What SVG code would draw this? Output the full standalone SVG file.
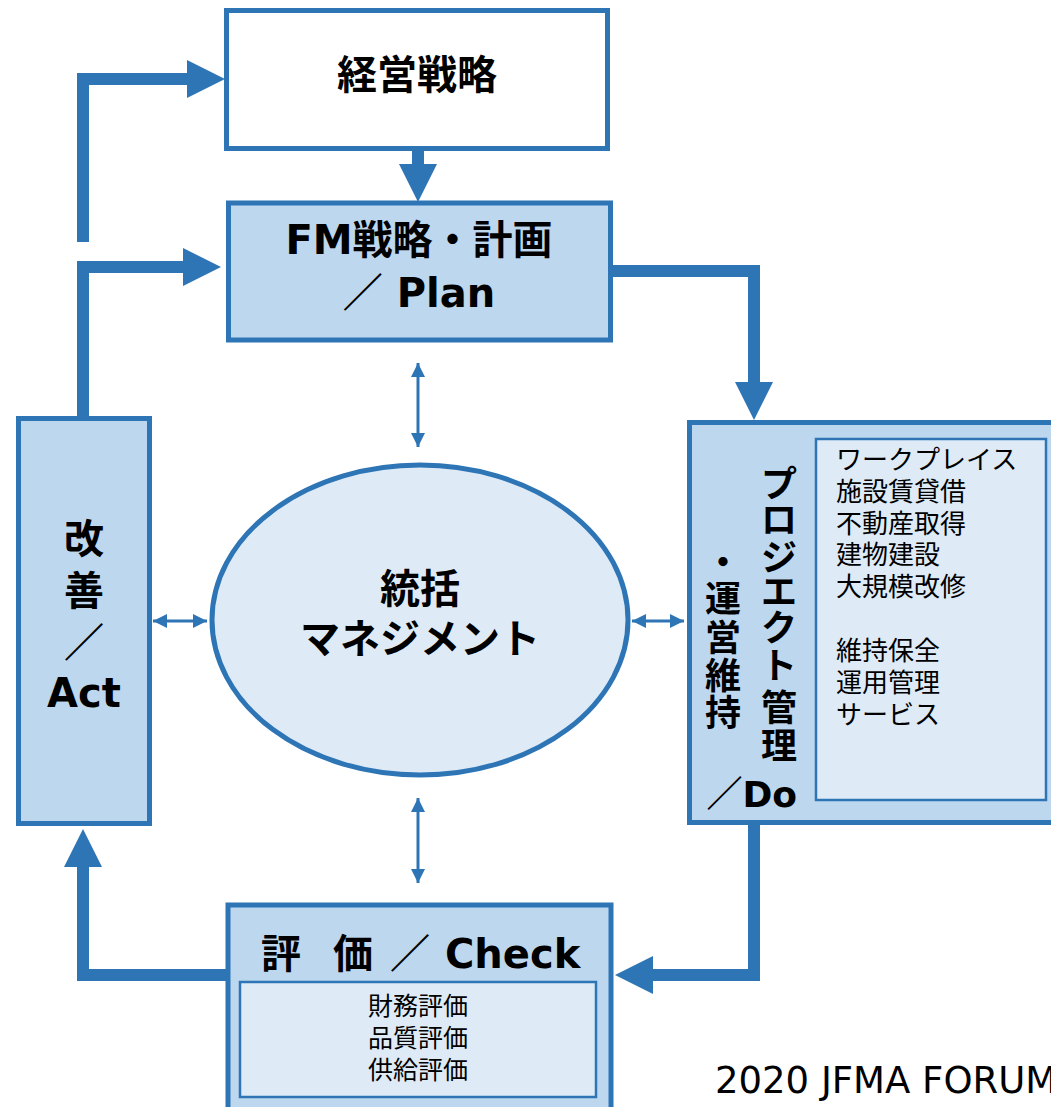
<svg xmlns="http://www.w3.org/2000/svg" width="1051" height="1107" viewBox="0 0 1051 1107">
<defs>
<style>
.box{stroke:#2E75B6;stroke-width:5;}
.inner{fill:#DEEBF7;stroke:#2E75B6;stroke-width:2.5;}
.title{font-family:"DejaVu Sans","Noto Sans CJK JP",sans-serif;font-weight:bold;font-size:40px;fill:#000;}
.vt{font-family:"DejaVu Sans","Noto Sans CJK JP",sans-serif;font-weight:bold;font-size:36px;fill:#000;text-anchor:middle;}
.list{font-family:"Noto Sans CJK JP",sans-serif;font-size:26px;fill:#000;}
.small{font-family:"Noto Sans CJK JP",sans-serif;font-size:25px;fill:#000;text-anchor:middle;}
.big{fill:none;stroke:#2E75B6;stroke-width:12;stroke-linejoin:miter;}
.thin{fill:none;stroke:#2E75B6;stroke-width:3;}
</style>
<marker id="bigHead" markerUnits="userSpaceOnUse" markerWidth="40" markerHeight="40" refX="1" refY="19" orient="auto" viewBox="0 0 40 40">
<path d="M0,0 L38,19 L0,38 Z" fill="#2E75B6"/>
</marker>
<marker id="smallHead" markerUnits="userSpaceOnUse" markerWidth="16" markerHeight="16" refX="14" refY="7" orient="auto-start-reverse" viewBox="0 0 16 16">
<path d="M0,0 L14,7 L0,14 Z" fill="#2E75B6"/>
</marker>
</defs>
<rect width="1051" height="1107" fill="#FFFFFF"/>

<g id="connectors">
<path class="big" d="M83,242 V79 H188" marker-end="url(#bigHead)"/>
<path class="big" d="M83,418 V267 H184" marker-end="url(#bigHead)"/>
<path class="big" d="M418,150 V165" marker-end="url(#bigHead)"/>
<path class="big" d="M611,271 H754 V383" marker-end="url(#bigHead)"/>
<path class="big" d="M754,823 V975 H652" marker-end="url(#bigHead)"/>
<path class="big" d="M226,975 H83 V866" marker-end="url(#bigHead)"/>
<path class="thin" d="M418,363 V447" marker-start="url(#smallHead)" marker-end="url(#smallHead)"/>
<path class="thin" d="M418,798 V883" marker-start="url(#smallHead)" marker-end="url(#smallHead)"/>
<path class="thin" d="M153,621 H207" marker-start="url(#smallHead)" marker-end="url(#smallHead)"/>
<path class="thin" d="M632,621 H684" marker-start="url(#smallHead)" marker-end="url(#smallHead)"/>
</g>

<g id="keiei">
<rect class="box" x="226.5" y="10.5" width="381" height="138" fill="#FFFFFF"/>
<text class="title" x="417" y="89" text-anchor="middle">経営戦略</text>
</g>

<g id="plan">
<rect class="box" x="228.5" y="203" width="382" height="137" fill="#BDD7EE"/>
<text class="title" x="419" y="254" text-anchor="middle">FM戦略・計画</text>
<text class="title" x="419" y="307" text-anchor="middle">／ Plan</text>
</g>

<g id="act">
<rect class="box" x="18.5" y="418.5" width="131" height="405" fill="#BDD7EE"/>
<text class="title" text-anchor="middle"><tspan x="84" y="553">改</tspan><tspan x="84" y="605">善</tspan><tspan x="84" y="657">／</tspan><tspan x="84" y="707">Act</tspan></text>
</g>

<g id="management">
<ellipse cx="420" cy="620" rx="208" ry="155" fill="#DEEBF7" stroke="#2E75B6" stroke-width="5"/>
<text class="title" x="420" y="603" text-anchor="middle">統括</text>
<text class="title" x="420" y="653" text-anchor="middle">マネジメント</text>
</g>

<g id="do">
<rect class="box" x="689.5" y="422.5" width="400" height="400" fill="#BDD7EE"/>
<text class="vt"><tspan x="779" y="497">プ</tspan><tspan x="779" y="533">ロ</tspan><tspan x="779" y="571">ジ</tspan><tspan x="779" y="605">エ</tspan><tspan x="779" y="641">ク</tspan><tspan x="779" y="679">ト</tspan><tspan x="779" y="721">管</tspan><tspan x="779" y="759">理</tspan></text>
<text class="vt"><tspan x="723" y="576">・</tspan><tspan x="723" y="612">運</tspan><tspan x="723" y="651">営</tspan><tspan x="723" y="689">維</tspan><tspan x="723" y="726">持</tspan></text>
<text class="vt" x="797" y="807" text-anchor="end" style="text-anchor:end">／Do</text>
<rect class="inner" x="816" y="439" width="230" height="361"/>
<text class="list"><tspan x="836" y="469">ワークプレイス</tspan><tspan x="836" y="501">施設賃貸借</tspan><tspan x="836" y="533">不動産取得</tspan><tspan x="836" y="564">建物建設</tspan><tspan x="836" y="596">大規模改修</tspan><tspan x="836" y="660">維持保全</tspan><tspan x="836" y="692">運用管理</tspan><tspan x="836" y="724">サービス</tspan></text>
</g>

<g id="check">
<rect class="box" x="228" y="905" width="383" height="220" fill="#BDD7EE"/>
<text class="title" y="968"><tspan x="261">評</tspan><tspan x="333">価</tspan><tspan x="390">／</tspan><tspan x="445">Check</tspan></text>
<rect class="inner" x="240" y="982" width="356" height="115"/>
<text class="small"><tspan x="418" y="1015">財務評価</tspan><tspan x="418" y="1047">品質評価</tspan><tspan x="418" y="1079">供給評価</tspan></text>
</g>

<g id="footer">
<text x="715" y="1093" font-family="DejaVu Sans, Noto Sans CJK JP, sans-serif" font-size="37" fill="#000">2020 JFMA FORUM</text>
</g>
</svg>
